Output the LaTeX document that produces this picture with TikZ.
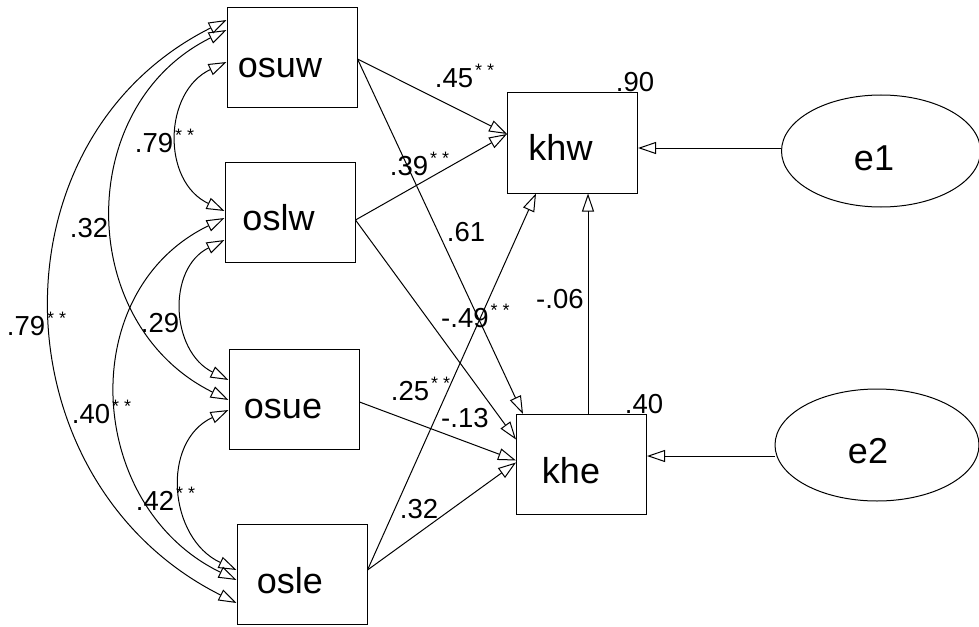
\documentclass[tikz,border=0pt]{standalone}
\usepackage{fontspec}
\setmainfont{Liberation Sans}
\usetikzlibrary{arrows.meta,shapes.geometric}
\newcommand{\sig}{\kern1pt\raisebox{5.5pt}{\fontsize{9}{9}\selectfont * *}}
\begin{document}
\begin{tikzpicture}[x=0.5pt,y=-0.5pt,
  box/.style={draw, line width=0.5pt, minimum width=65pt, minimum height=50pt, inner sep=0},
  err/.style={draw, ellipse, line width=0.5pt, inner sep=0},
  vname/.style={font=\fontsize{18}{20}\selectfont, inner sep=0, anchor=base},
  num/.style={font=\fontsize{13.75}{16}\selectfont, inner sep=0, anchor=base west},
  arr/.style={-{Triangle[open,length=9pt,width=6pt]}, line width=0.5pt},
  cov/.style={{Triangle[open,length=9pt,width=6pt]}-{Triangle[open,length=9pt,width=6pt]}, line width=0.5pt}]
\useasboundingbox (0,0) rectangle (979,626);
% boxes
\node[box] (osuw) at (292,58) {};
\node[box] (oslw) at (290,212) {};
\node[box] (osue) at (294,399) {};
\node[box] (osle) at (302,574) {};
\node[box] (khw) at (572.5,143) {};
\node[box] (khe) at (581.5,464.5) {};
\node[err, minimum width=99.5pt, minimum height=56pt] (e1) at (881,151) {};
\node[err, minimum width=102pt, minimum height=56pt] (e2) at (877,445) {};
% names
\node[vname] (tosuw) at (280,78) {osuw};
\node[vname] (toslw) at (278.5,230) {oslw};
\node[vname] (tosue) at (283,418) {osue};
\node[vname] (tosle) at (290,593) {osle};
\node[vname] (tkhw) at (560.5,160) {khw};
\node[vname] (tkhe) at (571,483) {khe};
\node[vname] (te1) at (874,170) {e1};
\node[vname] (te2) at (868,463) {e2};
% covariances
\draw[cov] ([yshift=-2pt]osuw.west) .. controls +(-63.2,29.5) and +(-63.2,-29.5) .. ([yshift=0.5pt]oslw.west);
\draw[cov] ([yshift=14pt]osuw.west) .. controls +(-153.2,75.7) and +(-153.2,-75.7) .. ([yshift=-0.5pt]osue.west);
\draw[cov] ([yshift=19pt]osuw.west) .. controls +(-240.1,120.3) and +(-240.1,-120.3) .. ([yshift=-14.5pt]osle.west);
\draw[cov] ([yshift=-14pt]oslw.west) .. controls +(-57.9,28.6) and +(-57.9,-28.6) .. ([yshift=9.5pt]osue.west);
\draw[cov] ([yshift=-3pt]oslw.west) .. controls +(-151.2,73.1) and +(-151.2,-73.1) .. ([yshift=-3pt]osle.west);
\draw[cov] ([yshift=-5.5pt]osue.west) .. controls +(-68,31.6) and +(-68,-31.6) .. ([yshift=2pt]osle.west);
% paths
\draw[arr] ([yshift=-0.5pt]osuw.east) -- ([yshift=4.5pt]khw.west);
\draw[arr] ([yshift=-4pt]oslw.east) -- ([yshift=4.5pt]khw.west);
\draw[arr] ([yshift=-0.5pt]osuw.east) -- ([xshift=3.5pt]khe.north west);
\draw[arr] ([yshift=-4pt]oslw.east) -- ([yshift=12.5pt]khe.west);
\draw[arr] ([yshift=-1.5pt]osue.east) -- ([yshift=2pt]khe.west);
\draw[arr] ([yshift=2pt]osle.east) -- ([yshift=1pt]khe.west);
\draw[arr] ([yshift=2pt]osle.east) -- ([xshift=-18.25pt]khw.south);
\coordinate (kk) at ([xshift=3.25pt]khe.north);
\draw[arr] (kk) -- (kk |- khw.south);
\coordinate (e1p) at ([yshift=1.5pt]e1.west);
\draw[arr] (e1p) -- (e1p -| khw.east);
\coordinate (e2p) at ([yshift=-5.5pt]e2.west);
\draw[arr] (e2p) -- (e2p -| khe.east);
% labels
\node[num] (l1) at (134.5,152) {.79\sig};
\node[num] (l2) at (69.5,237) {.32};
\node[num] (l3) at (6.5,335) {.79\sig};
\node[num] (l4) at (140.5,332) {.29};
\node[num] (l5) at (71.5,423) {.40\sig};
\node[num] (l6) at (135.5,510) {.42\sig};
\node[num] (l7) at (434.5,88) {.45\sig};
\node[num] (l8) at (615.5,91) {.90};
\node[num] (l9) at (389.5,175) {.39\sig};
\node[num] (l10) at (446.5,241) {.61};
\node[num] (l11) at (535.8,308) {-.06};
\node[num] (l12) at (440.8,327) {-.49\sig};
\node[num] (l13) at (390.5,400) {.25\sig};
\node[num] (l14) at (440.8,427) {-.13};
\node[num] (l15) at (399.5,518) {.32};
\node[num] (l16) at (624.5,413) {.40};
\end{tikzpicture}
\end{document}
